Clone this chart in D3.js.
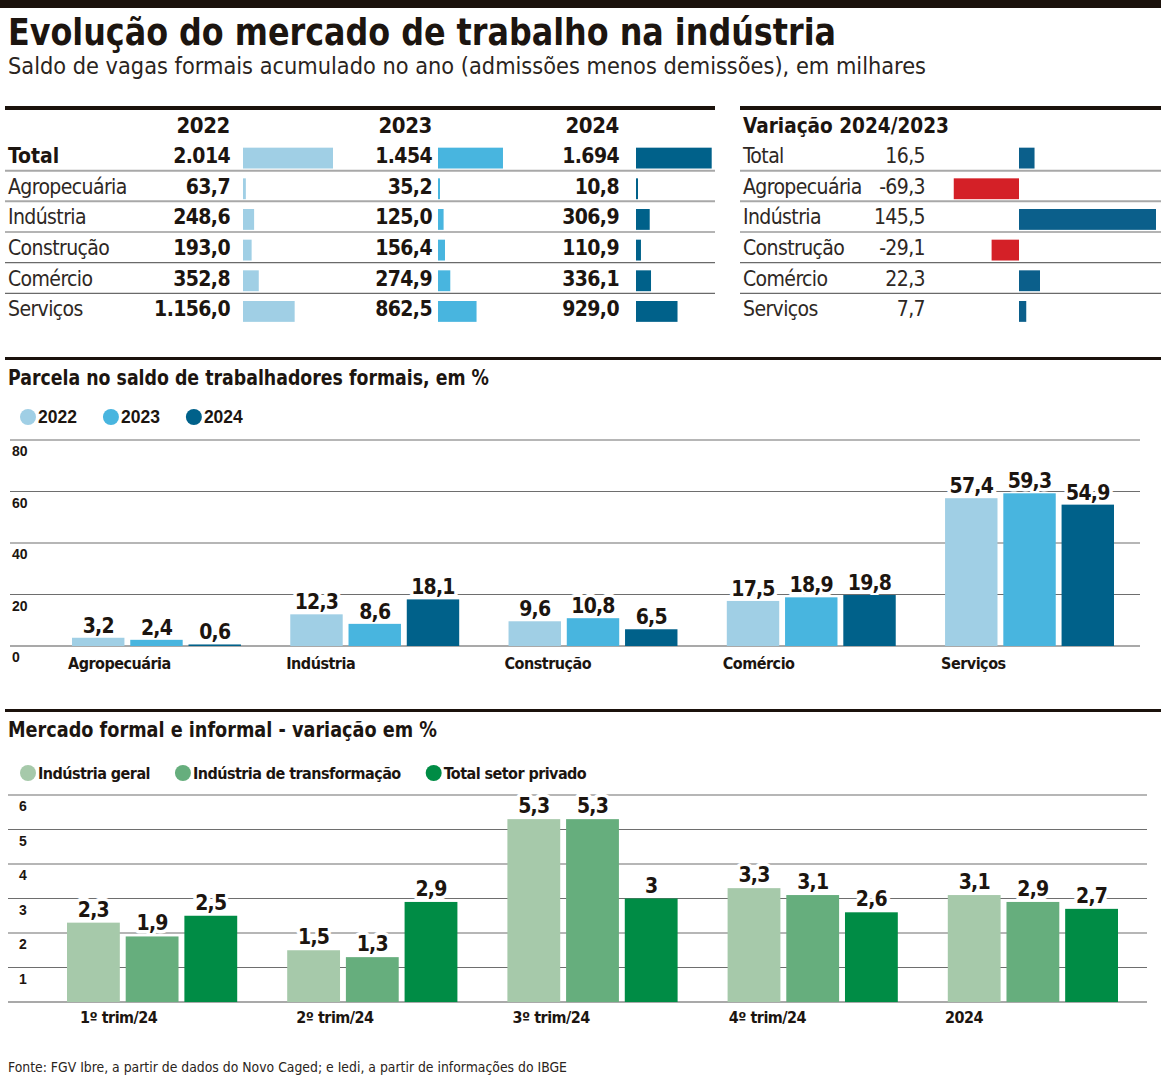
<!DOCTYPE html>
<html><head><meta charset="utf-8">
<script src="https://cdn.jsdelivr.net/npm/d3@7"></script>
<style>
body{margin:0;background:#fff;}
svg{display:block;}
text{fill:#1c1510;}
.c{font-family:"DejaVu Sans Condensed","Liberation Sans Narrow","Roboto",sans-serif;font-stretch:condensed;}
.a{font-family:"Liberation Sans",Arial,sans-serif;}
</style></head><body>
<script>
// ---------- DATA ----------
const rowLabels = ["Total","Agropecuária","Indústria","Construção","Comércio","Serviços"];
const years = ["2022","2023","2024"];
const saldo2022 = [2014, 63.7, 248.6, 193.0, 352.8, 1156.0];
const saldo2023 = [1454, 35.2, 125.0, 156.4, 274.9, 862.5];
const saldo2024 = [1694, 10.8, 306.9, 110.9, 336.1, 929.0];
const variacao = [16.5, -69.3, 145.5, -29.1, 22.3, 7.7];

const sectors = ["Agropecuária","Indústria","Construção","Comércio","Serviços"];
const share2022 = [3.2, 12.3, 9.6, 17.5, 57.4];
const share2023 = [2.4, 8.6, 10.8, 18.9, 59.3];
const share2024 = [0.6, 18.1, 6.5, 19.8, 54.9];
const shareTicks = [0, 20, 40, 60, 80];

const periods = ["1º trim/24","2º trim/24","3º trim/24","4º trim/24","2024"];
const seriesNames = ["Indústria geral","Indústria de transformação","Total setor privado"];
const industriaGeral = [2.3, 1.5, 5.3, 3.3, 3.1];
const industriaTransf = [1.9, 1.3, 5.3, 3.1, 2.9];
const totalPrivado = [2.5, 2.9, 3.0, 2.6, 2.7];
const varTicks = [1, 2, 3, 4, 5, 6];

// ---------- STYLE ----------
const blues = ["#a0cfe5", "#48b5df", "#00618a"];
const greens = ["#a6c9aa", "#66ae7d", "#008c45"];
const posCol = "#0b5f8b", negCol = "#d42027";
const W = 1161, H = 1076;

const loc = d3.formatLocale({decimal: ",", thousands: ".", grouping: [3], currency: ["R$", ""], minus: "-"});
const fInt = loc.format(",.0f"), f1 = loc.format(",.1f"), f1t = loc.format(",.1~f");

const svg = d3.select("body").append("svg").attr("width", W).attr("height", H);
svg.append("rect").attr("width", W).attr("height", H).attr("fill", "#fff");

// top bar
svg.append("rect").attr("x", 0).attr("y", 0).attr("width", W).attr("height", 8).attr("fill", "#1b120c");
svg.append("text").attr("class", "c").attr("x", 8).attr("y", 45)
  .attr("font-size", 38).attr("font-weight", 700).attr("textLength", 828).attr("lengthAdjust", "spacingAndGlyphs")
  .text("Evolução do mercado de trabalho na indústria");
svg.append("text").attr("class", "c").attr("x", 8).attr("y", 74)
  .attr("font-size", 23).attr("font-weight", 300).style("fill", "#2a2420").attr("textLength", 918).attr("lengthAdjust", "spacingAndGlyphs")
  .text("Saldo de vagas formais acumulado no ano (admissões menos demissões), em milhares");

// ---------- TABLE ----------
svg.append("rect").attr("x", 5).attr("y", 106).attr("width", 710).attr("height", 4).attr("fill", "#1b120c");
svg.append("rect").attr("x", 740).attr("y", 106).attr("width", 421).attr("height", 4).attr("fill", "#1b120c");

const rowY = d3.scaleBand().domain(rowLabels).range([140, 324]);
const step = rowY.step();
const barW = d3.scaleLinear().domain([0, 2014]).range([0, 90]);
const cols = [
  {year: years[0], vals: saldo2022, valX: 230, barX: 243, color: blues[0]},
  {year: years[1], vals: saldo2023, valX: 432, barX: 438, color: blues[1]},
  {year: years[2], vals: saldo2024, valX: 619, barX: 636, color: blues[2]}
];

// separators
rowLabels.slice(1).forEach((r, i) => {
  const y = rowY(r);
  [[5, 715], [740, 1161]].forEach(([a, b]) => {
    svg.append("line").attr("x1", a).attr("x2", b).attr("y1", y).attr("y2", y)
      .attr("stroke", i < 2 ? "#a8a8a8" : "#6a6a6a").attr("stroke-width", i < 2 ? 2 : 1.2);
  });
});

cols.forEach(c => {
  svg.append("text").attr("class", "c").attr("x", c.valX).attr("y", 133).attr("text-anchor", "end")
    .attr("font-size", 22).attr("font-weight", 700).attr("letter-spacing", -0.4).text(c.year);
  const g = svg.append("g");
  g.selectAll("text.v").data(rowLabels).join("text").attr("class", "c v")
    .attr("x", c.valX).attr("y", r => rowY(r) + 23).attr("text-anchor", "end")
    .attr("font-size", 21).attr("font-weight", 700).attr("letter-spacing", -0.6)
    .text((r, i) => i === 0 ? fInt(c.vals[i]) : f1(c.vals[i]));
  g.selectAll("rect").data(rowLabels).join("rect")
    .attr("x", c.barX).attr("y", r => rowY(r) + step * 0.25).attr("height", step * 0.68)
    .attr("width", (r, i) => Math.max(2, barW(c.vals[i]))).attr("fill", c.color);
});
svg.selectAll("text.rl").data(rowLabels).join("text").attr("class", "c rl")
  .attr("x", 8).attr("y", r => rowY(r) + 23).attr("font-size", 21)
  .attr("font-weight", (r, i) => i === 0 ? 700 : 300)
  .attr("letter-spacing", (r, i) => i === 0 ? 0 : -0.6)
  .style("fill", (r, i) => i === 0 ? "#1c1510" : "#2e2824")
  .text(r => r);

// right table
svg.append("text").attr("class", "c").attr("x", 743).attr("y", 133).attr("font-size", 21).attr("font-weight", 700)
  .attr("textLength", 206).attr("lengthAdjust", "spacingAndGlyphs").text("Variação 2024/2023");
const vx = d3.scaleLinear().domain([0, 145.5]).range([1019, 1156]);
svg.selectAll("text.vl").data(rowLabels).join("text").attr("class", "c vl")
  .attr("x", 743).attr("y", r => rowY(r) + 23).attr("font-size", 21).attr("font-weight", 300)
  .attr("letter-spacing", -0.6).style("fill", "#2e2824").text(r => r);
svg.selectAll("text.vv").data(variacao).join("text").attr("class", "c vv")
  .attr("x", 925).attr("y", (d, i) => rowY(rowLabels[i]) + 23).attr("text-anchor", "end")
  .attr("font-size", 21).attr("font-weight", 300).attr("letter-spacing", -0.6).style("fill", "#2e2824").text(d => f1(d));
svg.selectAll("rect.vb").data(variacao).join("rect").attr("class", "vb")
  .attr("x", d => Math.min(vx(0), vx(d))).attr("width", d => Math.abs(vx(d) - vx(0)))
  .attr("y", (d, i) => rowY(rowLabels[i]) + step * 0.25).attr("height", step * 0.68)
  .attr("fill", d => d < 0 ? negCol : posCol);

// ---------- CHART 1 ----------
svg.append("rect").attr("x", 5).attr("y", 357).attr("width", 1156).attr("height", 3).attr("fill", "#1b120c");
svg.append("text").attr("class", "c").attr("x", 8).attr("y", 385).attr("font-size", 21).attr("font-weight", 700)
  .attr("textLength", 481).attr("lengthAdjust", "spacingAndGlyphs").text("Parcela no saldo de trabalhadores formais, em %");

function legend(y, names, colors, cls, size, startX, gap, ls) {
  let x = startX;
  names.forEach((n, i) => {
    svg.append("circle").attr("cx", x).attr("cy", y).attr("r", 8).attr("fill", colors[i]);
    const t = svg.append("text").attr("class", cls).attr("x", x + 10).attr("y", y + 6)
      .attr("font-size", size).attr("font-weight", 700).attr("letter-spacing", ls).text(n);
    x += 10 + t.node().getComputedTextLength() + gap;
  });
}
legend(417, years, blues, "a", 17.5, 28, 34, 0);

const y1 = d3.scaleLinear().domain([0, 80]).range([646, 440]);
const x1 = d3.scaleBand().domain(sectors).range([72, 1114]).paddingInner(0.226);
const x1i = d3.scaleBand().domain(years).range([0, x1.bandwidth()]).paddingInner(0.1);
svg.selectAll("line.g1").data(shareTicks).join("line").attr("class", "g1")
  .attr("x1", 10).attr("x2", 1140).attr("y1", d => y1(d)).attr("y2", d => y1(d))
  .attr("stroke", d => d === 0 ? "#555" : "#6e6e6e").attr("stroke-width", 1.2);
svg.selectAll("text.t1").data(shareTicks).join("text").attr("class", "a t1")
  .attr("x", 12).attr("y", d => y1(d) + 16).attr("font-size", 14).attr("font-weight", 700).text(d => d);

const shareSeries = [share2022, share2023, share2024];
const g1l = svg.append("g"), g1 = svg.append("g");
sectors.forEach((s, i) => {
  years.forEach((yr, k) => {
    const v = shareSeries[k][i];
    g1.append("rect").attr("x", x1(s) + x1i(yr)).attr("width", x1i.bandwidth())
      .attr("y", y1(v)).attr("height", y1(0) - y1(v)).attr("fill", blues[k]);
    g1l.append("text").attr("class", "c").attr("x", x1(s) + x1i(yr) + x1i.bandwidth() / 2).attr("y", y1(v) - 5)
      .attr("text-anchor", "middle").attr("font-size", 21).attr("font-weight", 700).attr("letter-spacing", -0.8)
      .attr("stroke", "#fff").attr("stroke-width", 7).attr("stroke-linejoin", "round").style("paint-order", "stroke")
      .text(f1(v));
  });
  g1.append("text").attr("class", "c").attr("x", x1(s) - 4).attr("y", 669)
    .attr("font-size", 16).attr("font-weight", 700).attr("letter-spacing", -0.5).text(s);
});

// ---------- CHART 2 ----------
svg.append("rect").attr("x", 5).attr("y", 709).attr("width", 1156).attr("height", 3).attr("fill", "#1b120c");
svg.append("text").attr("class", "c").attr("x", 8).attr("y", 737).attr("font-size", 21).attr("font-weight", 700)
  .attr("textLength", 429).attr("lengthAdjust", "spacingAndGlyphs").text("Mercado formal e informal - variação em %");
legend(773, seriesNames, greens, "c", 16, 28, 33, -0.55);

const y2 = d3.scaleLinear().domain([0, 6]).range([1002, 795]);
const x2 = d3.scaleBand().domain(periods).range([67, 1118]).paddingInner(0.227);
const x2i = d3.scaleBand().domain(seriesNames).range([0, x2.bandwidth()]).paddingInner(0.1);
const x2l = d3.scalePoint().domain(periods).range([80, 945]);
svg.selectAll("line.g2").data([0].concat(varTicks)).join("line").attr("class", "g2")
  .attr("x1", 8).attr("x2", 1147).attr("y1", d => y2(d)).attr("y2", d => y2(d))
  .attr("stroke", d => d === 0 ? "#555" : "#6e6e6e").attr("stroke-width", 1.2);
svg.selectAll("text.t2").data(varTicks).join("text").attr("class", "a t2")
  .attr("x", 19).attr("y", d => y2(d) + 16).attr("font-size", 14).attr("font-weight", 700).text(d => d);

const varSeries = [industriaGeral, industriaTransf, totalPrivado];
const g2l = svg.append("g"), g2 = svg.append("g");
periods.forEach((p, i) => {
  seriesNames.forEach((sn, k) => {
    const v = varSeries[k][i];
    g2.append("rect").attr("x", x2(p) + x2i(sn)).attr("width", x2i.bandwidth())
      .attr("y", y2(v)).attr("height", y2(0) - y2(v)).attr("fill", greens[k]);
    g2l.append("text").attr("class", "c").attr("x", x2(p) + x2i(sn) + x2i.bandwidth() / 2).attr("y", y2(v) - 6)
      .attr("text-anchor", "middle").attr("font-size", 21).attr("font-weight", 700).attr("letter-spacing", -0.8)
      .attr("stroke", "#fff").attr("stroke-width", 7).attr("stroke-linejoin", "round").style("paint-order", "stroke")
      .text(f1t(v));
  });
  g2.append("text").attr("class", "c").attr("x", x2l(p)).attr("y", 1023)
    .attr("font-size", 16).attr("font-weight", 700).attr("letter-spacing", -0.5).text(p);
});

// footer
svg.append("text").attr("class", "c").attr("x", 8).attr("y", 1072).attr("font-size", 14).attr("font-weight", 300)
  .style("fill", "#2a2420").attr("textLength", 559).attr("lengthAdjust", "spacingAndGlyphs")
  .text("Fonte: FGV Ibre, a partir de dados do Novo Caged; e Iedi, a partir de informações do IBGE");
</script>
</body></html>
